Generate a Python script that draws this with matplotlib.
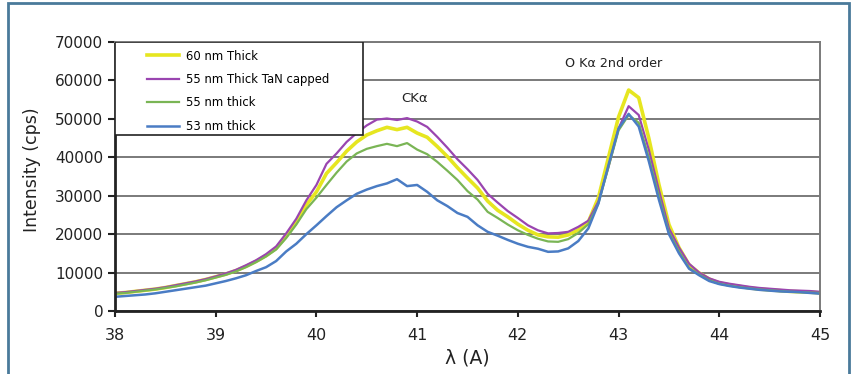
import matplotlib
matplotlib.use("Agg")
import matplotlib.pyplot as plt
from matplotlib.patches import Rectangle

plt.rcParams['font.family'] = ['DejaVu Sans']

wavelength = [round(38.0 + 0.1 * i, 1) for i in range(71)]

thick60 = [4600, 4800, 5100, 5400, 5700, 6100, 6600, 7100, 7600, 8200,
           8900, 9600, 10500, 11600, 12900, 14400, 16300, 19400, 23000, 27600,
           31000, 35800, 38600, 41600, 44000, 45800, 46900, 47800, 47200, 47800,
           46300, 45200, 42800, 40200, 37300, 34600, 32000, 28600, 26200, 24500,
           22600, 21000, 19800, 19300, 19200, 19800, 21100, 23200, 29500, 40000,
           50500, 57500, 55500, 45000, 33000, 22500, 16500, 12000, 9900, 8300,
           7300, 6800, 6400, 6000, 5700, 5500, 5300, 5100, 5000, 4900,
           4700]

capped55 = [4700, 4900, 5200, 5500, 5800, 6200, 6700, 7200, 7700, 8300,
            9000, 9800, 10700, 11900, 13200, 14800, 16800, 20200, 24000, 28800,
            32800, 38300, 41000, 44000, 46300, 48300, 49800, 50100, 49700, 50200,
            49300, 47900, 45300, 42500, 39500, 36900, 34100, 30500, 28200, 26000,
            24200, 22300, 21000, 20200, 20300, 20600, 21900, 23500, 28500, 37500,
            47500, 53300, 51000, 42000, 31500, 21500, 16500, 12300, 10000, 8500,
            7600, 7100, 6700, 6300, 6000, 5800, 5600, 5400, 5300, 5200,
            5000]

thick55 = [4500, 4700, 5000, 5300, 5600, 6000, 6400, 6900, 7400, 8000,
           8700, 9400, 10300, 11400, 12700, 14200, 16000, 19000, 22500, 26500,
           29500, 32800, 36000, 38900, 41000, 42200, 42900, 43500, 42900, 43700,
           42000, 40800, 38800, 36500, 34100, 31200, 29000, 25800, 24200, 22500,
           21000, 19800, 18800, 18100, 18000, 18700, 20300, 22600, 28000, 37500,
           47000, 51000, 49000, 40000, 30000, 20500, 15500, 11200, 9500, 8000,
           7100, 6600, 6200, 5900, 5600, 5400, 5200, 5000, 4900, 4800,
           4700]

thick53 = [3700, 3900, 4100, 4300, 4600, 5000, 5400, 5800, 6200, 6600,
           7200, 7800, 8500, 9300, 10400, 11400, 13000, 15500, 17500, 20000,
           22300, 24700, 27000, 28800, 30500, 31600, 32500, 33200, 34300, 32500,
           32800, 31000, 28800, 27300, 25500, 24500, 22300, 20600, 19600, 18500,
           17500, 16700, 16200, 15400, 15500, 16300, 18200, 21500, 28000, 38000,
           47500, 51300, 48000, 39000, 29000, 20000, 15000, 11000, 9300, 7800,
           7000, 6500, 6100, 5800, 5500, 5300, 5100, 5000, 4900, 4700,
           4500]

series_labels = ["60 nm Thick", "55 nm Thick TaN capped", "55 nm thick", "53 nm thick"]
series_values = [thick60, capped55, thick55, thick53]
series_colors = ["#e6e620", "#9a45b0", "#7ab555", "#4a7cc4"]
series_widths = [2.6, 1.6, 1.6, 1.8]

x_ticks = [38, 39, 40, 41, 42, 43, 44, 45]
y_ticks = [0, 10000, 20000, 30000, 40000, 50000, 60000, 70000]

fig = plt.figure(figsize=(8.57, 3.74), dpi=100)
ax = fig.add_axes([115/857, 1 - 311/374, (820 - 115)/857, (311 - 42)/374])

for vals, lab, col, lw in zip(series_values, series_labels, series_colors, series_widths):
    ax.plot(wavelength, vals, color=col, lw=lw, label=lab)

ax.set_xlim(38, 45)
ax.set_ylim(0, 70000)
ax.set_xticks(x_ticks)
ax.set_yticks(y_ticks)
ax.yaxis.grid(True, color="#7a7a7a", lw=1.4)
ax.set_axisbelow(True)
for s in ["top", "right"]:
    ax.spines[s].set_color("#7a7a7a")
    ax.spines[s].set_linewidth(1.4)
for s in ["left", "bottom"]:
    ax.spines[s].set_color("#222222")
    ax.spines[s].set_linewidth(2)
ax.tick_params(axis="y", direction="out", length=5, width=1.5, labelsize=11,
               colors="#222222", pad=3.5)
ax.tick_params(axis="x", direction="out", length=4, width=1.5, labelsize=11.5,
               colors="#222222", pad=8)
ax.set_ylabel("Intensity (cps)", fontsize=12.5, color="#222222")
ax.yaxis.set_label_coords(-0.105, 0.524)
ax.set_xlabel("λ (A)", fontsize=13.5, color="#222222", labelpad=4)

ax.text(40.97, 55400, "CKα", ha="center", va="center", fontsize=9.5, color="#222222")
ax.text(42.955, 64500, "O Kα 2nd order", ha="center", va="center", fontsize=9.2, color="#222222")

ax.add_patch(Rectangle((0, (311 - 135)/269), (363 - 115)/705, 1 - (311 - 135)/269,
                       transform=ax.transAxes, facecolor="white",
                       edgecolor="#222222", lw=1.2, zorder=4))
leg = ax.legend(loc="upper left", bbox_to_anchor=((147 - 115)/705, (311 - 49.5)/269),
                borderaxespad=0, borderpad=0, frameon=False, fontsize=8.4,
                handlelength=2.7, labelspacing=0.9, handletextpad=0.68)
leg.set_zorder(5)

fig.patches.append(Rectangle((8/857, -0.02), 841/857, (374 - 3)/374 + 0.02,
                             transform=fig.transFigure, fill=False,
                             edgecolor="#4a7a9a", lw=2))

fig.savefig("out.png", dpi=100)
